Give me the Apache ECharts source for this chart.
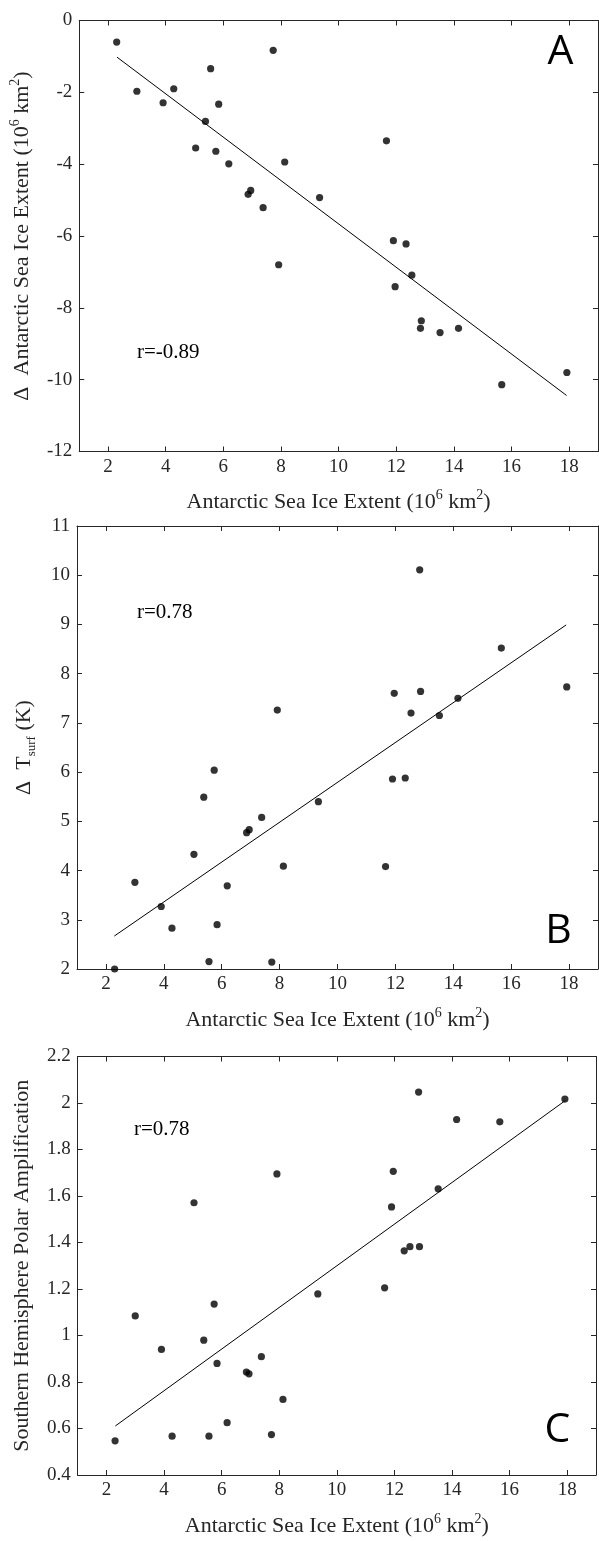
<!DOCTYPE html>
<html>
<head>
<meta charset="utf-8">
<script src="https://cdn.jsdelivr.net/npm/echarts@6/dist/echarts.min.js"></script>
<style>
  html, body { margin: 0; padding: 0; background: #fff; }
  #chart { width: 599px; height: 1541px; }
</style>
</head>
<body>
<div id="chart"></div>
<script>
// Antarctic sea ice extent of each simulation (10^6 km^2)
const iceExtent = [2.30, 3.00, 3.91, 4.28, 5.04, 5.38, 5.56, 5.74, 5.84, 6.19,
                   6.86, 6.95, 7.38, 7.73, 7.92, 8.13, 9.34, 11.66, 11.90, 11.96,
                   12.34, 12.54, 12.84, 12.87, 13.52, 14.16, 15.66, 17.92];
// Change in Antarctic sea ice extent (10^6 km^2)
const deltaSeaIce = [-0.60, -1.97, -2.29, -1.90, -3.55, -2.81, -1.34, -3.64, -2.33, -3.99,
                     -4.84, -4.73, -5.21, -0.83, -6.80, -3.94, -4.93, -3.35, -6.13, -7.41,
                     -6.22, -7.09, -8.57, -8.36, -8.69, -8.57, -10.14, -9.80];
// Change in surface temperature (K)
const deltaTsurf = [2.00, 3.76, 3.27, 2.83, 4.33, 5.49, 2.15, 6.04, 2.90, 3.69,
                    4.77, 4.83, 5.08, 2.14, 7.26, 4.09, 5.40, 4.08, 5.86, 7.60,
                    5.88, 7.20, 10.11, 7.64, 7.15, 7.50, 8.52, 7.73];
// Southern Hemisphere polar amplification factor
const polarAmp = [0.547, 1.084, 0.940, 0.567, 1.571, 0.980, 0.567, 1.135, 0.880, 0.625,
                  0.843, 0.835, 0.909, 0.574, 1.695, 0.725, 1.179, 1.205, 1.553, 1.706,
                  1.364, 1.382, 2.047, 1.382, 1.631, 1.929, 1.919, 2.017];

// Least-squares fit lines (end points)
const fitSeaIce = [[2.31, -1.02], [17.91, -10.44]];
const fitTsurf  = [[2.29, 2.67], [17.90, 8.99]];
const fitAmp    = [[2.31, 0.611], [17.94, 2.011]];

const xTicks = [2, 4, 6, 8, 10, 12, 14, 16, 18];
const rLabels = ['r=-0.89', 'r=0.78', 'r=0.78'];
const panelLetters = ['A', 'B', 'C'];

const SERIF = '"Liberation Serif", "Times New Roman", serif';
const INK = '#262626';
const lineStyle = { color: INK, width: 1 };
const supRich = {
  sup: { fontSize: 14, lineHeight: 13, verticalAlign: 'top', fontFamily: SERIF, color: INK },
  sub: { fontSize: 13, lineHeight: 13, verticalAlign: 'bottom', fontFamily: SERIF, color: INK }
};
const nameStyle = { fontSize: 22, fontFamily: SERIF, color: INK, lineHeight: 28, rich: supRich };
const xTitle = 'Antarctic Sea Ice Extent (10{sup|6} km{sup|2})';

const panels = [
  { grid: { left: 77, width: 521, top: 20.5, height: 431 }, y: deltaSeaIce, fit: fitSeaIce,
    yMin: -12, yMax: 0, yStep: 2, yName: '\u0394  Antarctic Sea Ice Extent (10{sup|6} km{sup|2})' },
  { grid: { left: 77, width: 521, top: 526, height: 443 }, y: deltaTsurf, fit: fitTsurf,
    yMin: 2, yMax: 11, yStep: 1, yName: '\u0394  T{sub|surf} (K)' },
  { grid: { left: 75, width: 521, top: 1056.5, height: 421 }, y: polarAmp, fit: fitAmp,
    yMin: 0.4, yMax: 2.2, yStep: 0.2, yName: 'Southern Hemisphere Polar Amplification' }
];

const grid = [], xAxis = [], yAxis = [], series = [];
panels.forEach((p, i) => {
  grid.push(p.grid);
  // bottom axis with labels
  xAxis.push({
    gridIndex: i, type: 'value', min: 1, max: 19, position: 'bottom',
    axisLine: { show: true, onZero: false, lineStyle },
    axisTick: { show: true, inside: true, length: 5, customValues: xTicks, lineStyle },
    axisLabel: { customValues: xTicks, fontSize: 19, fontFamily: SERIF, color: INK, margin: 6 },
    splitLine: { show: false },
    name: xTitle, nameLocation: 'middle', nameGap: 37, nameTextStyle: nameStyle
  });
  // top frame with ticks
  xAxis.push({
    gridIndex: i, type: 'value', min: 1, max: 19, position: 'top',
    axisLine: { show: true, onZero: false, lineStyle },
    axisTick: { show: true, inside: true, length: 5, customValues: xTicks, lineStyle },
    axisLabel: { show: false }, splitLine: { show: false }
  });
  yAxis.push({
    gridIndex: i, type: 'value', min: p.yMin, max: p.yMax, interval: p.yStep, position: 'left',
    axisLine: { show: true, onZero: false, lineStyle },
    axisTick: { show: true, inside: true, length: 5, lineStyle },
    axisLabel: { fontSize: 19, fontFamily: SERIF, color: INK, margin: 7,
                 formatter: v => String(+v.toFixed(1)) },
    splitLine: { show: false },
    name: p.yName, nameLocation: 'middle', nameGap: 39, nameTextStyle: nameStyle
  });
  yAxis.push({
    gridIndex: i, type: 'value', min: p.yMin, max: p.yMax, interval: p.yStep, position: 'right',
    axisLine: { show: true, onZero: false, lineStyle },
    axisTick: { show: true, inside: true, length: 5, lineStyle },
    axisLabel: { show: false }, splitLine: { show: false }
  });
  series.push({
    type: 'scatter', xAxisIndex: 2 * i, yAxisIndex: 2 * i,
    data: iceExtent.map((x, k) => [x, p.y[k]]),
    symbol: 'circle', symbolSize: 7.2,
    itemStyle: { color: '#000' }, silent: true
  });
  series.push({
    type: 'line', xAxisIndex: 2 * i, yAxisIndex: 2 * i,
    data: p.fit, showSymbol: false, symbol: 'none',
    lineStyle: { color: '#000', width: 1 }, silent: true
  });
});

const rPos = [[137, 352.7], [137, 612.3], [134, 1129.3]];
const letterPos = [[560.5, 52], [558.5, 931], [557.5, 1430]];
const graphic = [];
rLabels.forEach((t, i) => graphic.push({
  type: 'text', x: rPos[i][0], y: rPos[i][1],
  style: { text: t, font: '21px ' + SERIF, fill: '#000', align: 'left', verticalAlign: 'middle' }
}));
panelLetters.forEach((t, i) => graphic.push({
  type: 'text', x: letterPos[i][0], y: letterPos[i][1],
  style: { text: t, font: '41px "Open Sans", sans-serif', fill: '#000', align: 'center', verticalAlign: 'middle' }
}));

const chart = echarts.init(document.getElementById('chart'), null, { renderer: 'canvas' });
chart.setOption({
  animation: false,
  backgroundColor: '#fff',
  grid, xAxis, yAxis, series, graphic
});
</script>
</body>
</html>
